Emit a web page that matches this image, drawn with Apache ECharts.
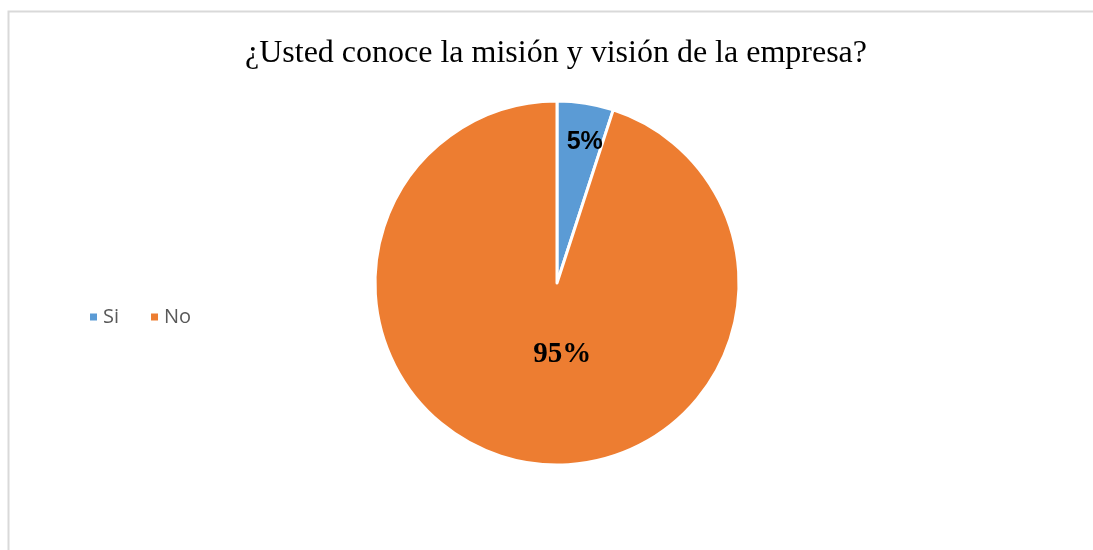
<!DOCTYPE html>
<html>
<head>
<meta charset="utf-8">
<script src="https://cdn.jsdelivr.net/npm/echarts@6/dist/echarts.min.js"></script>
<style>
  html, body { margin: 0; padding: 0; background: #fff; }
  #chart { width: 1093px; height: 550px; }
</style>
</head>
<body>
<div id="chart"></div>
<script>
const categories = ['Si', 'No'];
const values = [5, 95];
const colors = ['#5B9BD5', '#ED7D31'];

const chart = echarts.init(document.getElementById('chart'));

// label tweaks to sit where the original put them
const labelStyles = [
  { offset: [13, -48], fontFamily: 'Liberation Sans, sans-serif', fontSize: 25 },
  { offset: [20, -21], fontFamily: 'Liberation Serif, serif', fontSize: 29 }
];

const pieData = categories.map((name, i) => ({
  name,
  value: values[i],
  itemStyle: { color: colors[i] },
  label: labelStyles[i]
}));

chart.setOption({
  animation: false,
  graphic: [{
    type: 'polyline',
    shape: { points: [[8.5, 560], [8.5, 11.5], [1100, 11.5]] },
    style: { stroke: '#d9d9d9', lineWidth: 2, fill: null }
  }],
  title: {
    text: '¿Usted conoce la misión y visión de la empresa?',
    left: 551,
    textAlign: 'center',
    top: 33,
    textStyle: {
      fontFamily: 'Liberation Serif, serif',
      fontSize: 32,
      fontWeight: 'normal',
      color: '#000'
    }
  },
  legend: {
    data: categories,
    orient: 'horizontal',
    left: 83,
    top: 302,
    icon: 'rect',
    itemWidth: 9,
    itemHeight: 9,
    itemGap: 30,
    textStyle: { fontFamily: 'Open Sans, sans-serif', fontSize: 20, color: '#595959' }
  },
  series: [{
    type: 'pie',
    center: [557, 283],
    radius: 182,
    startAngle: 90,
    clockwise: true,
    silent: true,
    itemStyle: { borderColor: '#fff', borderWidth: 3 },
    label: {
      show: true,
      position: 'inside',
      formatter: p => p.value + '%',
      color: '#000',
      fontWeight: 'bold'
    },
    labelLine: { show: false },
    data: pieData
  }]
});
</script>
</body>
</html>
